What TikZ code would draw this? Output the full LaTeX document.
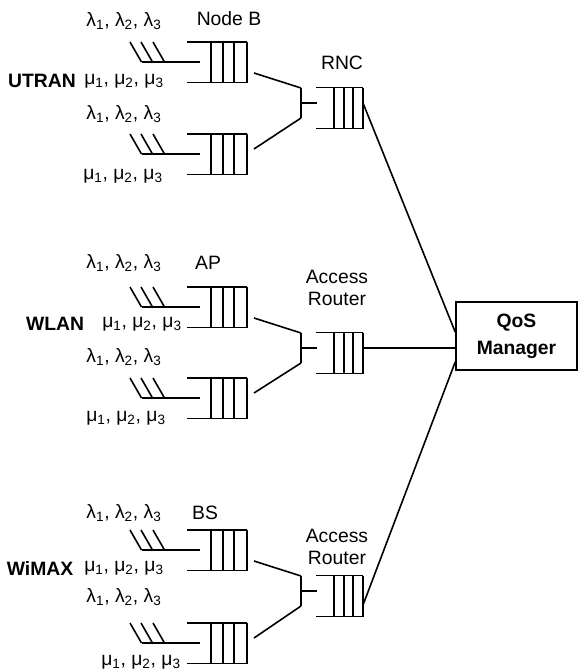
\documentclass[tikz,border=0pt]{standalone}
\usepackage{fontspec}
\setmainfont{Liberation Sans}
\usetikzlibrary{calc}
\usetikzlibrary{positioning}
\newcommand{\arrivals}{λ\textsubscript{1}, λ\textsubscript{2}, λ\textsubscript{3}}
\newcommand{\services}{μ\textsubscript{1}, μ\textsubscript{2}, μ\textsubscript{3}}
\tikzset{
	qnet/.style = {
		x=0.75pt, y=-0.75pt, line width=1.2pt,
		every node/.style={font=\fontsize{14.5}{16.5}\selectfont, inner sep=0pt},
	},
	netname/.style = {font=\fontsize{14.5}{16.5}\selectfont\bfseries},
	% queue of a base station, origin at its right end, middle line
	bsqueue/.pic = {
		\draw (-60,-20) -- (0,-20) (-60,20.5) -- (0,20.5);
		\foreach \x in {-36,-24,-13,0} \draw (\x,-20) -- (\x,20.5);
		\draw (-105,0) -- (-47,0);
		\foreach \x in {-117,-106,-94} \draw (\x,-20) -- ++(11.5,20);
		\coordinate (-hi) at (7,-5);
		\coordinate (-lo) at (7,11);
	},
	% queue of a controller / router, with its junction
	arqueue/.pic = {
		\draw (-47,-15.5) -- (0,-15.5) (-47,25.5) -- (0,25.5);
		\foreach \x in {-29,-19,-10,0} \draw (\x,-15.5) -- (\x,25.5);
		\draw (-62,-15) -- (-62,15) (-62,0) -- (-46,0);
		\coordinate (-top) at (-62,-15);
		\coordinate (-bot) at (-62,15);
		\coordinate (-out) at (0,0);
		\coordinate (-low) at (0,14);
	}
}

\begin{document}
\begin{tikzpicture}[qnet]
	\useasboundingbox (0,0) rectangle (579,671);

	% UTRAN
	\pic (nb1) at (247,62) {bsqueue};
	\pic (nb2) at (247,154) {bsqueue};
	\pic (rnc) at (363,103) {arqueue};
	\node (nbname) at (229,19) {Node B};
	\node (rncname) at (342,63) {RNC};
	\node (utran) [netname] at (42,81) {UTRAN};
	\node (lamu1) at (124,21) {\arrivals};
	\node (muu1) at (124,81) {\services};
	\node (lamu2) at (124,114) {\arrivals};
	\node (muu2) at (123,176) {\services};
	\draw (nb1-lo) -- (rnc-top);
	\draw (nb2-hi) -- (rnc-bot);

	% WLAN
	\pic (ap1) at (247,307) {bsqueue};
	\pic (ap2) at (247,398) {bsqueue};
	\pic (ar1) at (363,348) {arqueue};
	\node (apname) at (208,263) {AP};
	\node (ar1name) [align=center] at (337,288) {Access\\Router};
	\node (wlan) [netname] at (55,324) {WLAN};
	\node (lamw1) at (124,263) {\arrivals};
	\node (muw1) at (142,324) {\services};
	\node (lamw2) at (124,357) {\arrivals};
	\node (muw2) at (126,418) {\services};
	\draw (ap1-lo) -- (ar1-top);
	\draw (ap2-hi) -- (ar1-bot);

	% WiMAX
	\pic (bs1) at (247,550) {bsqueue};
	\pic (bs2) at (247,643) {bsqueue};
	\pic (ar2) at (363,591) {arqueue};
	\node (bsname) at (205,513) {BS};
	\node (ar2name) [align=center] at (337,547) {Access\\Router};
	\node (wimax) [netname] at (40,568) {WiMAX};
	\node (lamx1) at (124,513) {\arrivals};
	\node (mux1) at (124,568) {\services};
	\node (lamx2) at (124,597) {\arrivals};
	\node (mux2) at (141,662) {\services};
	\draw (bs1-lo) -- (ar2-top);
	\draw (bs2-hi) -- (ar2-bot);

	% QoS manager
	\node (qos) [draw, netname, align=center, minimum width=90.75pt, minimum height=51pt,
		font=\fontsize{14.5}{20}\selectfont\bfseries] at (516.5,336) {QoS\\Manager};
	\draw (rnc-out) -- ($(qos.west)+(0,-4)$);
	\draw (ar1-out) -- (ar1-out -| qos.west);
	\draw (ar2-low) -- ($(qos.west)+(0,26)$);
\end{tikzpicture}
\end{document}
